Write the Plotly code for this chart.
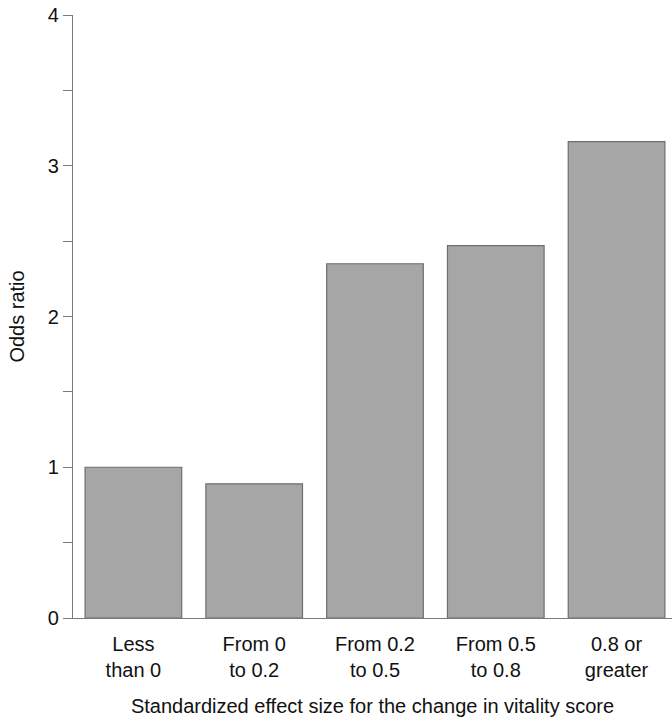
import plotly.graph_objects as go

categories = ["Less<br>than 0", "From 0<br>to 0.2", "From 0.2<br>to 0.5", "From 0.5<br>to 0.8", "0.8 or<br>greater"]
odds_ratio = [1.00, 0.89, 2.35, 2.47, 3.16]
ytick_vals = [0, 0.5, 1, 1.5, 2, 2.5, 3, 3.5, 4]
ytick_text = ["0", "", "1", "", "2", "", "3", "", "4"]

FONT = "Liberation Sans, Arial, sans-serif"

fig = go.Figure(go.Bar(
    x=list(range(len(categories))),
    y=odds_ratio,
    marker=dict(color="#a6a6a6", line=dict(color="#6e6e6e", width=1.2)),
    width=0.8,
))

fig.update_layout(
    width=672, height=720,
    margin=dict(l=73, r=0, t=15, b=102),
    paper_bgcolor="white", plot_bgcolor="white",
    showlegend=False,
    font=dict(family=FONT, color="#111111"),
    bargap=0.2,
)
fig.update_xaxes(
    range=[-0.5, 4.459],
    tickvals=list(range(len(categories))),
    ticktext=categories,
    tickfont=dict(size=20),
    showline=True, linecolor="#7a7a7a", linewidth=1.2,
    ticks="outside", ticklen=8, tickcolor="rgba(0,0,0,0)",
    showgrid=False, zeroline=False,
    title=dict(text="Standardized effect size for the change in vitality score",
               font=dict(size=20), standoff=18),
)
fig.update_yaxes(
    range=[0, 4],
    tickvals=ytick_vals,
    ticktext=ytick_text,
    tickfont=dict(size=20),
    ticks="outside", ticklen=9, tickcolor="#7a7a7a", tickwidth=1.2,
    showline=True, linecolor="#7a7a7a", linewidth=1.2,
    showgrid=False, zeroline=False,
    title=dict(text="Odds ratio", font=dict(size=20), standoff=17),
)

fig.write_html("out.html", config={"displayModeBar": False},
               post_script="document.body.style.margin='0';")
